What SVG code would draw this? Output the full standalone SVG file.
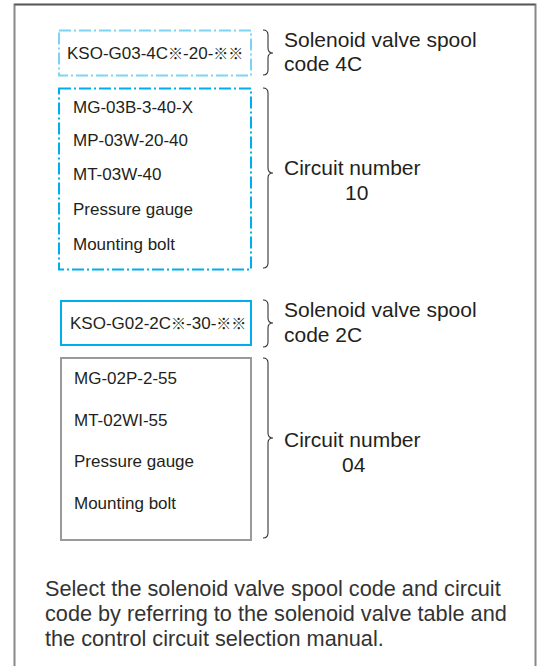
<svg xmlns="http://www.w3.org/2000/svg" width="544" height="666" viewBox="0 0 544 666">
<style>
text{font-family:"Liberation Sans",Arial,"Noto Sans CJK JP",sans-serif;fill:#231f20}
.item{font-size:17px}
.sym{font-size:15px}
.lbl{font-size:21px}
.note{font-size:21.7px;fill:#333}
.brace{fill:none;stroke:#333;stroke-width:1.1}
.dd1{fill:none;stroke:#7dd3f2;stroke-width:2;stroke-dasharray:12 3 2 3}
.dd2{fill:none;stroke:#00aeef;stroke-width:2;stroke-dasharray:12 3 2 3}
.solid{fill:none;stroke:#00aeef;stroke-width:2}
.grey{fill:none;stroke:#9a9a9a;stroke-width:2}
</style>
<rect width="544" height="666" fill="#fff"/>
<g id="frame">
<path d="M14.5 680 V4.5 H535.5 V680" fill="none" stroke="#888" stroke-width="2"/>
<line x1="14.5" y1="4.5" x2="535.5" y2="4.5" stroke="#555" stroke-width="1.5"/>
</g>
<g id="valve4C">
<rect class="dd1" x="59" y="30.5" width="192" height="45"/>
<text class="item" x="67" y="59">KSO-G03-4C<tspan class="sym">※</tspan>-20-<tspan class="sym">※※</tspan></text>
</g>
<g id="circuit10">
<rect class="dd2" x="59" y="88.5" width="192" height="181"/>
<text class="item" x="73" y="113">MG-03B-3-40-X</text>
<text class="item" x="73" y="146">MP-03W-20-40</text>
<text class="item" x="73" y="180">MT-03W-40</text>
<text class="item" x="73" y="215">Pressure gauge</text>
<text class="item" x="73" y="250">Mounting bolt</text>
</g>
<g id="valve2C">
<rect class="solid" x="61" y="301" width="190" height="44"/>
<text class="item" x="70" y="329">KSO-G02-2C<tspan class="sym">※</tspan>-30-<tspan class="sym">※※</tspan></text>
</g>
<g id="circuit04">
<rect class="grey" x="61" y="358" width="190" height="182"/>
<text class="item" x="74" y="384">MG-02P-2-55</text>
<text class="item" x="74" y="426">MT-02WI-55</text>
<text class="item" x="74" y="467">Pressure gauge</text>
<text class="item" x="74" y="509">Mounting bolt</text>
</g>
<g id="connectors">
<path class="brace" d="M263 30 Q268 30 268 35 L268 48 Q268 53 273 53 Q268 53 268 58 L268 70 Q268 75 263 75"/>
<path class="brace" d="M263 88 Q268 88 268 93 L268 168 Q268 173 273 173 Q268 173 268 178 L268 263 Q268 268 263 268"/>
<path class="brace" d="M263 300 Q268 300 268 305 L268 318 Q268 323 273 323 Q268 323 268 328 L268 342 Q268 347 263 347"/>
<path class="brace" d="M263 358 Q268 358 268 363 L268 433 Q268 438 273 438 Q268 438 268 443 L268 533 Q268 538 263 538"/>
</g>
<g id="labels">
<text class="lbl" x="284" y="47">Solenoid valve spool</text>
<text class="lbl" x="284" y="71">code 4C</text>
<text class="lbl" x="284" y="175">Circuit number</text>
<text class="lbl" x="345" y="200">10</text>
<text class="lbl" x="284" y="317">Solenoid valve spool</text>
<text class="lbl" x="284" y="342">code 2C</text>
<text class="lbl" x="284" y="447">Circuit number</text>
<text class="lbl" x="342" y="472">04</text>
</g>
<g id="note">
<text class="note" x="45" y="596">Select the solenoid valve spool code and circuit</text>
<text class="note" x="45" y="621">code by referring to the solenoid valve table and</text>
<text class="note" x="45" y="646">the control circuit selection manual.</text>
</g>
</svg>
